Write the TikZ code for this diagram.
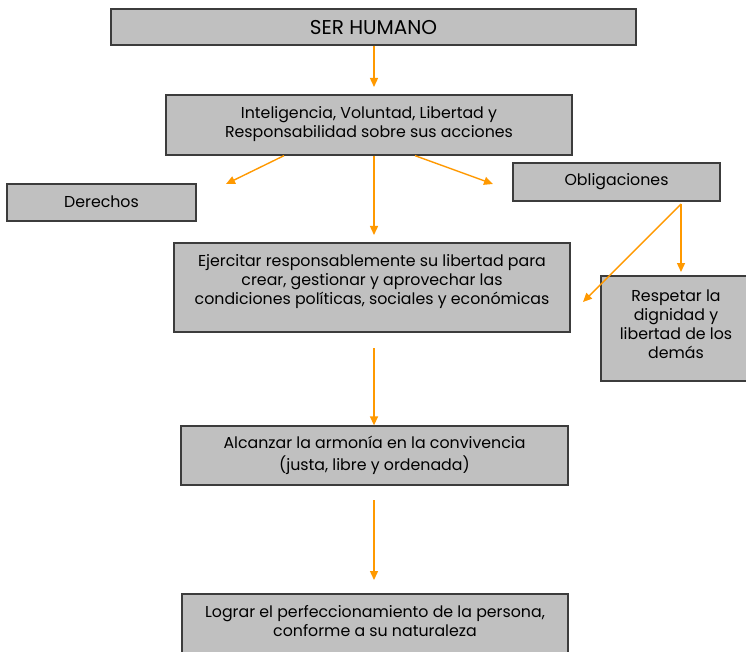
\documentclass[tikz,border=0pt]{standalone}
\usepackage{fontspec}
\setmainfont{Poppins}
\usetikzlibrary{arrows.meta,calc}
\definecolor{boxfill}{HTML}{C0C0C0}
\definecolor{boxline}{HTML}{3C3C3C}
\definecolor{arr}{HTML}{FF9900}
\newcommand{\bx}[4]{\parbox[c][#2][t]{#1}{\centering\vspace*{#3}\strut #4}}
\tikzset{
  box/.style={draw=boxline, fill=boxfill, line width=1.3pt, inner sep=0pt, rectangle,
    font=\fontsize{15.8}{19}\selectfont},
  bigbox/.style={box, font=\fontsize{20}{24}\selectfont},
  arrow/.style={draw=arr, line width=1.4pt, -{Triangle[length=9pt,width=8pt]}}
}
\begin{document}
\begin{tikzpicture}[x=1pt,y=-1pt]
\useasboundingbox (0,0) rectangle (746,652);
\clip (0,0) rectangle (746,652);
\fill[white] (0,0) rectangle (746,652);
\node[bigbox] (ser) at (373.5,27) {\bx{525pt}{36pt}{9.2pt}{SER HUMANO}};
\node[box] (intel) at (369,125) {\bx{406pt}{60pt}{10.7pt}{Inteligencia, Voluntad, Libertad y\\ Responsabilidad sobre sus acciones}};
\node[box] (der) at (101.5,202.5) {\bx{189pt}{37pt}{10.2pt}{Derechos}};
\node[box] (obl) at (616.5,182) {\bx{207pt}{38pt}{9.4pt}{Obligaciones}};
\node[box] (ejer) at (372,287.5) {\bx{396pt}{89pt}{10.4pt}{Ejercitar responsablemente su libertad para\\ crear, gestionar y aprovechar las\\ condiciones políticas, sociales y económicas}};
\node[box] (resp) at (676,328.5) {\bx{150pt}{105pt}{11.7pt}{Respetar la\\ dignidad y\\ libertad de los\\ demás}};
\node[box] (alc) at (374.5,455.5) {\bx{387pt}{59pt}{9.4pt}{Alcanzar la armonía en la convivencia\\ (justa, libre y ordenada)}};
\node[box] (log) at (375,627) {\bx{386pt}{66pt}{9.7pt}{Lograr el perfeccionamiento de la persona,\\ conforme a su naturaleza}};
% connectors
\coordinate (t1) at (374,87);
\draw[arrow] (ser.south -| t1) -- (t1);
\coordinate (s2) at (284,155);
\coordinate (t2) at (226,184);
\draw[arrow] (intel.south -| s2) -- (t2);
\coordinate (s3) at (374,155);
\coordinate (t3) at (374,235);
\draw[arrow] (intel.south -| s3) -- (t3);
\coordinate (s4) at (415,155);
\coordinate (t4) at (493,184);
\draw[arrow] (intel.south -| s4) -- (t4);
\coordinate (s5) at (681,204);
\coordinate (t5) at (681,272);
\coordinate (t6) at (583,302);
\draw[arrow] (s5) -- (t5);
\draw[arrow] (s5) -- (t6);
\coordinate (s7) at (374,348);
\draw[arrow] (s7) -- (alc.north -| s7);
\coordinate (s8) at (374,500);
\coordinate (t8) at (374,580);
\draw[arrow] (s8) -- (t8);
\end{tikzpicture}
\end{document}
